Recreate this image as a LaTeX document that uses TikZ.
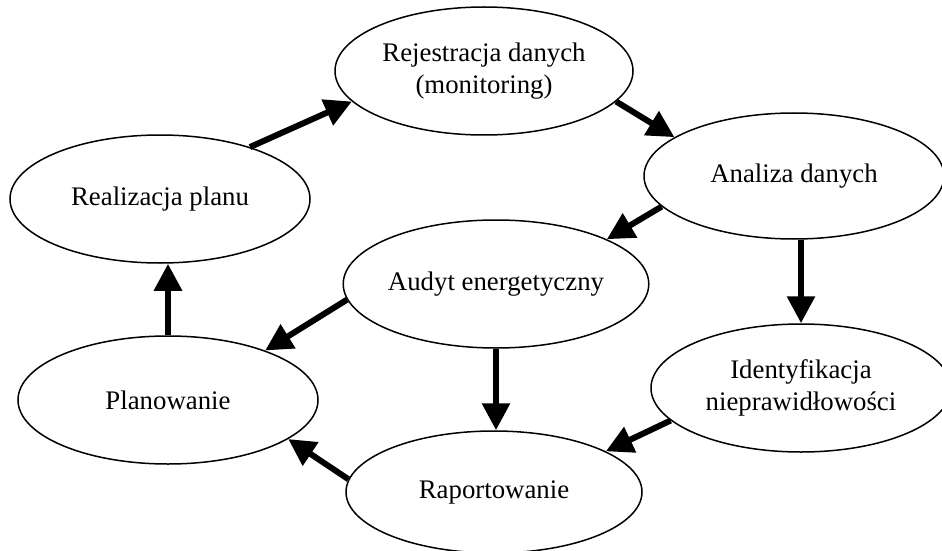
\documentclass[tikz,border=0pt]{standalone}
\usepackage{fontspec}
\setmainfont{Liberation Serif}
\usetikzlibrary{shapes.geometric,arrows.meta}
\begin{document}
\begin{tikzpicture}[x=0.5pt,y=-0.5pt,
  oval/.style={draw,ellipse,line width=0.75pt,inner sep=0pt,align=center,
    minimum width=150pt,minimum height=64pt,
    font=\fontsize{13.4}{16.3}\selectfont},
  flow/.style={line width=3pt,-{Triangle[length=13.5pt,width=13.5pt]}}]
\useasboundingbox (0,0) rectangle (942,551);
\node[oval,minimum width=149pt] (rej) at (484,71) {Rejestracja danych\\(monitoring)};
\node[oval,minimum height=63pt] (ana) at (794,176) {Analiza danych};
\node[oval] (rea) at (160,199) {Realizacja planu};
\node[oval,minimum width=151pt] (aud) at (496,284) {Audyt energetyczny};
\node[oval] (pla) at (168,400) {Planowanie};
\node[oval] (ide) at (801,388) {Identyfikacja\\nieprawidłowości};
\node[oval,minimum width=148pt,minimum height=61pt] (rap) at (494,492) {Raportowanie};
\draw[flow] (rea.30) -- (rej.193.7);
\draw[flow] (rej.-13.9) -- (ana.162.4);
\draw[flow] (ana.193.4) -- (aud.22.9);
\draw[flow] (ana.south -| ide.north) -- (ide.north);
\draw[flow] (aud.186) -- (pla.27.8);
\draw[flow] (aud.south) -- (aud.south |- rap.north);
\draw[flow] (ide.194) -- (rap.20);
\draw[flow] (rap.175) -- (pla.-18.4);
\draw[flow] (pla.north) -- (pla.north |- rea.south);
\end{tikzpicture}
\end{document}
